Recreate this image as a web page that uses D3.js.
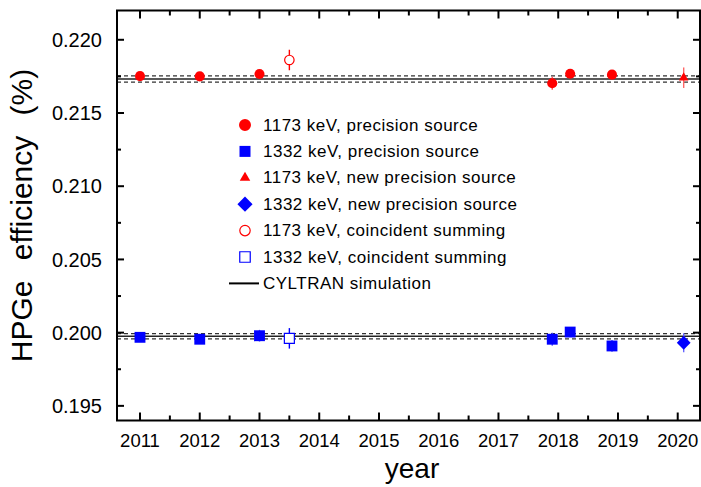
<!DOCTYPE html>
<html><head><meta charset="utf-8">
<script src="https://cdn.jsdelivr.net/npm/d3@7"></script>
<style>
html,body{margin:0;padding:0;background:#fff;}
svg{display:block;font-family:"Liberation Sans",Arial,sans-serif;}
</style></head>
<body>
<svg id="chart" width="701" height="487"></svg>
<script>
// ---- data ----
const xTicks = [2011,2012,2013,2014,2015,2016,2017,2018,2019,2020];
const yTicks = [0.195,0.200,0.205,0.210,0.215,0.220];

const precYears = [2011, 2012, 2013, 2017.9, 2018.2, 2018.9];
const eff1173Prec = [0.21752, 0.21750, 0.21766, 0.21703, 0.21768, 0.21762];
const err1173Prec = [0.0001, 0.0001, 0.0002, 0.00045, 0.0001, 0.0002];
const eff1332Prec = [0.19968, 0.19955, 0.19979, 0.19955, 0.20004, 0.19909];
const err1332Prec = [0.0001, 0.0001, 0.0004, 0.00045, 0.0001, 0.0004];

const newYears = [2020.1];
const eff1173New = [0.21741];
const err1173New = [0.0007];
const eff1332New = [0.19931];
const err1332New = [0.00065];

const coincYears = [2013.5];
const eff1173Coinc = [0.21862];
const err1173Coinc = [0.0007];
const eff1332Coinc = [0.19961];
const err1332Coinc = [0.0007];

const cyltranValues = [0.21732, 0.19975];
const cyltranUnc = [0.00021, 0.00018];

const legendLabels = [
  "1173 keV, precision source",
  "1332 keV, precision source",
  "1173 keV, new precision source",
  "1332 keV, new precision source",
  "1173 keV, coincident summing",
  "1332 keV, coincident summing",
  "CYLTRAN simulation"
];

// ---- layout ----
const L = 117, R = 700, T = 10.5, B = 420.5;
const svg = d3.select("#chart");
const x = d3.scaleLinear().domain([2010.615, 2020.373]).range([L, R]);
const y = d3.scaleLinear().domain([0.194, 0.222]).range([B, T]);

const RED = "#ff0000", BLUE = "#0000ff";

// CYLTRAN lines
const gLines = svg.append("g");
cyltranValues.forEach((v, i) => {
  [v + cyltranUnc[i], v - cyltranUnc[i]].forEach(d => {
    gLines.append("line").attr("x1", L).attr("x2", R)
      .attr("y1", y(d)).attr("y2", y(d))
      .attr("stroke", "#333").attr("stroke-width", 1.3)
      .attr("stroke-dasharray", "4,3");
  });
  gLines.append("line").attr("x1", L).attr("x2", R)
    .attr("y1", y(v)).attr("y2", y(v))
    .attr("stroke", "#222").attr("stroke-width", 1.5);
});

// series
const series = [
  {xs: precYears, ys: eff1173Prec, es: err1173Prec, type: d3.symbolCircle, size: 80, color: RED, fill: true, rot: 0, ebColor: "#ff5555"},
  {xs: precYears, ys: eff1332Prec, es: err1332Prec, type: d3.symbolSquare, size: 118, color: BLUE, fill: true, rot: 0, ebColor: "#5555ff"},
  {xs: newYears, ys: eff1173New, es: err1173New, type: d3.symbolTriangle, size: 40, color: RED, fill: true, rot: 0, ebColor: "#ff6666"},
  {xs: newYears, ys: eff1332New, es: err1332New, type: d3.symbolSquare, size: 95, color: BLUE, fill: true, rot: 45, ebColor: "#6666ff"},
  {xs: coincYears, ys: eff1173Coinc, es: err1173Coinc, type: d3.symbolCircle, size: 70, color: RED, fill: false, rot: 0, ebColor: RED},
  {xs: coincYears, ys: eff1332Coinc, es: err1332Coinc, type: d3.symbolSquare, size: 100, color: BLUE, fill: false, rot: 0, ebColor: BLUE}
];

const gPts = svg.append("g");
series.forEach(s => {
  s.xs.forEach((xv, i) => {
    const cx = x(xv), cy = y(s.ys[i]);
    gPts.append("line").attr("x1", cx).attr("x2", cx)
      .attr("y1", y(s.ys[i] + s.es[i])).attr("y2", y(s.ys[i] - s.es[i]))
      .attr("stroke", s.ebColor).attr("stroke-width", 1.4);
    gPts.append("path")
      .attr("d", d3.symbol().type(s.type).size(s.size)())
      .attr("transform", `translate(${cx},${cy}) rotate(${s.rot})`)
      .attr("fill", s.fill ? s.color : "#fff")
      .attr("stroke", s.color).attr("stroke-width", s.fill ? 0 : 1.2);
  });
});

// frame and ticks
const gAx = svg.append("g").attr("stroke", "#000").attr("stroke-width", 2);
gAx.append("rect").attr("x", L).attr("y", T).attr("width", R - L).attr("height", B - T)
  .attr("fill", "none");

const xMinor = d3.range(2010.5, 2021, 1).filter(v => x(v) > L + 1 && x(v) < R - 1);
xTicks.forEach(v => {
  gAx.append("line").attr("x1", x(v)).attr("x2", x(v)).attr("y1", B).attr("y2", B - 8);
  gAx.append("line").attr("x1", x(v)).attr("x2", x(v)).attr("y1", T).attr("y2", T + 8);
});
xMinor.forEach(v => {
  gAx.append("line").attr("x1", x(v)).attr("x2", x(v)).attr("y1", B).attr("y2", B - 5);
  gAx.append("line").attr("x1", x(v)).attr("x2", x(v)).attr("y1", T).attr("y2", T + 5);
});
const yMinor = [0.1975, 0.2025, 0.2075, 0.2125, 0.2175];
yTicks.forEach(v => {
  gAx.append("line").attr("x1", L).attr("x2", L + 7).attr("y1", y(v)).attr("y2", y(v));
  gAx.append("line").attr("x1", R).attr("x2", R - 7).attr("y1", y(v)).attr("y2", y(v));
});
yMinor.forEach(v => {
  gAx.append("line").attr("x1", L).attr("x2", L + 4).attr("y1", y(v)).attr("y2", y(v));
  gAx.append("line").attr("x1", R).attr("x2", R - 4).attr("y1", y(v)).attr("y2", y(v));
});

// tick labels
const gTxt = svg.append("g").attr("fill", "#000");
xTicks.forEach(v => {
  gTxt.append("text").attr("x", x(v)).attr("y", 446.5)
    .attr("text-anchor", "middle").attr("font-size", 18.5).text(String(v));
});
yTicks.forEach(v => {
  gTxt.append("text").attr("x", 102).attr("y", y(v)).attr("dy", "0.36em")
    .attr("text-anchor", "end").attr("font-size", 20).text(d3.format(".3f")(v));
});

// axis titles
gTxt.append("text").attr("x", 412).attr("y", 477.5).attr("text-anchor", "middle")
  .attr("font-size", 28).text("year");
gTxt.append("text").attr("transform", `translate(32,${(T + B) / 2}) rotate(-90)`)
  .attr("text-anchor", "middle").attr("font-size", 30).attr("word-spacing", "12px")
  .text("HPGe efficiency (%)");

// legend
const legX = 245, legTextX = 263, legY0 = 125, legDy = 26.4;
const legSyms = [
  {type: d3.symbolCircle, size: 113, color: RED, fill: true, rot: 0},
  {type: d3.symbolSquare, size: 121, color: BLUE, fill: true, rot: 0},
  {type: d3.symbolTriangle, size: 48, color: RED, fill: true, rot: 0},
  {type: d3.symbolSquare, size: 115, color: BLUE, fill: true, rot: 45},
  {type: d3.symbolCircle, size: 85, color: RED, fill: false, rot: 0},
  {type: d3.symbolSquare, size: 110, color: BLUE, fill: false, rot: 0}
];
const gLeg = svg.append("g");
legendLabels.forEach((lab, i) => {
  const cy = legY0 + i * legDy;
  if (i < legSyms.length) {
    const s = legSyms[i];
    gLeg.append("path").attr("d", d3.symbol().type(s.type).size(s.size)())
      .attr("transform", `translate(${legX},${cy}) rotate(${s.rot})`)
      .attr("fill", s.fill ? s.color : "#fff")
      .attr("stroke", s.color).attr("stroke-width", s.fill ? 0 : 1.2);
  } else {
    gLeg.append("line").attr("x1", 229).attr("x2", 259).attr("y1", cy).attr("y2", cy)
      .attr("stroke", "#000").attr("stroke-width", 2);
  }
  gLeg.append("text").attr("x", legTextX).attr("y", cy + 5.5)
    .attr("font-size", 17).attr("letter-spacing", "0.5px").attr("fill", "#000").text(lab);
});
</script>
</body></html>
